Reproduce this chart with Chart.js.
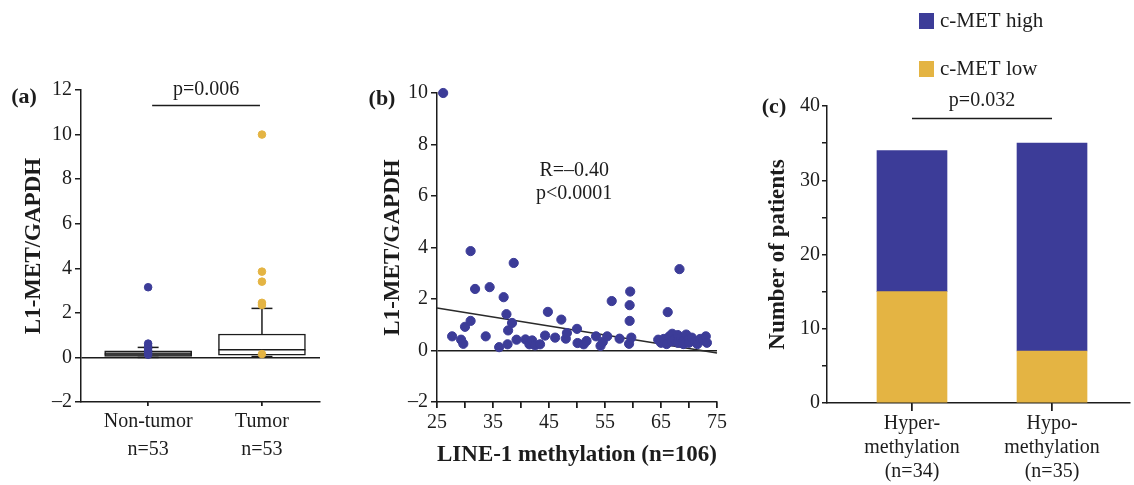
<!DOCTYPE html>
<html><head><meta charset="utf-8">
<script src="https://cdn.jsdelivr.net/npm/chart.js@4/dist/chart.umd.min.js"></script>
<style>
html,body{margin:0;padding:0;background:#fff;width:1134px;height:485px;overflow:hidden;}
.p{position:absolute;top:0;height:485px;}
</style></head><body>
<div class="p" style="left:0;width:330px"><canvas id="ca"></canvas></div>
<div class="p" style="left:340px;width:390px"><canvas id="cb"></canvas></div>
<div class="p" style="left:740px;width:394px"><canvas id="cc"></canvas></div>
<script>
// ---------- Panel (a): box plot ----------
const groupsA = ['Non-tumor', 'Tumor'];
const groupSubA = ['n=53', 'n=53'];
const q1A = [0.05, 0.10];
const medianA = [0.15, 0.35];
const q3A = [0.30, 1.05];
const whiskerLowA = [0.0, 0.04];
const whiskerHighA = [0.45, 2.2];
const outliersNonTumor = [3.15, 0.62, 0.5, 0.4, 0.3, 0.2, 0.12];
const outliersTumor = [10.0, 3.85, 3.4, 2.45, 2.35, 0.15];
const ticksA = [-2, 0, 2, 4, 6, 8, 10, 12];
const sigA = {value: 11.3, text: 'p=0.006'};

// ---------- Panel (b): scatter ----------
const methylationB = [26.1, 27.7, 29.3, 29.7, 30.0, 31.0, 31.0, 31.8, 33.7, 34.4, 36.1, 36.9, 37.4, 37.6, 37.7, 38.4, 38.7, 39.2, 40.8, 41.5, 42.0, 42.5, 43.4, 44.3, 44.8, 46.1, 47.2, 48.0, 48.2, 50.0, 50.1, 51.2, 51.7, 53.4, 54.2, 54.6, 55.4, 56.2, 57.6, 59.3, 59.5, 59.4, 59.4, 59.7, 66.2, 68.3, 64.5, 65.0, 65.5, 66.0, 66.5, 67.0, 67.0, 67.5, 68.0, 68.0, 68.5, 69.0, 69.0, 69.5, 70.0, 70.0, 70.5, 71.0, 71.5, 72.0, 72.5, 73.0, 73.2];
const ratioB = [10.0, 0.55, 0.42, 0.26, 0.92, 1.15, 3.86, 2.39, 0.55, 2.46, 0.13, 2.07, 1.41, 0.24, 0.78, 1.07, 3.4, 0.42, 0.43, 0.24, 0.39, 0.2, 0.24, 0.58, 1.5, 0.5, 1.2, 0.46, 0.68, 0.84, 0.29, 0.24, 0.37, 0.55, 0.18, 0.33, 0.55, 1.92, 0.46, 0.26, 2.29, 1.76, 1.15, 0.5, 1.49, 3.16, 0.42, 0.3, 0.45, 0.25, 0.55, 0.65, 0.35, 0.45, 0.3, 0.6, 0.5, 0.4, 0.25, 0.62, 0.45, 0.3, 0.5, 0.35, 0.25, 0.45, 0.4, 0.55, 0.3];
const fitXB = [25, 75];
const fitYB = [1.65, -0.1];
const statsB = ['R=\u20130.40', 'p<0.0001'];

// ---------- Panel (c): stacked bars ----------
const groupsC = [['Hyper-', 'methylation', '(n=34)'], ['Hypo-', 'methylation', '(n=35)']];
const metLowC = [15, 7];
const metHighC = [19, 28];
const seriesC = ['c-MET low', 'c-MET high'];
const sigC = {value: 38.3, text: 'p=0.032'};

// ---------- styling ----------
const BLUE = '#3c3c98', GOLD = '#e4b443', INK = '#1c1c1c';
const SERIF = "'Liberation Serif','Times New Roman',serif";
Chart.defaults.font.family = SERIF;
Chart.defaults.font.size = 20;
Chart.defaults.color = INK;
Chart.defaults.animation = false;
Chart.defaults.plugins.legend.display = false;
Chart.defaults.plugins.tooltip.enabled = false;

function fixSize(w, h) { return function (s) { if (w != null) s.width = w; if (h != null) s.height = h; }; }
function zeroLine(c) { return c.tick && c.tick.value === 0 ? INK : 'rgba(0,0,0,0)'; }
function dashNum(v) { return v < 0 ? '\u2013' + Math.abs(v) : String(v); }
function setTicks(arr) { return function (s) { s.ticks = arr.map(v => ({value: v})); }; }
function text(ctx, str, x, y, font) {
  ctx.save(); ctx.font = font; ctx.fillStyle = INK; ctx.textAlign = 'center'; ctx.textBaseline = 'middle';
  ctx.fillText(str, x, y); ctx.restore();
}
function hline(ctx, x1, x2, y) {
  ctx.save(); ctx.strokeStyle = INK; ctx.lineWidth = 1.5; ctx.beginPath(); ctx.moveTo(x1, y); ctx.lineTo(x2, y); ctx.stroke(); ctx.restore();
}
// outward tick marks on the x axis, placed at the scale's own tick values
function xTickMarks(len) {
  return {id: 'xTickMarks', afterDraw(ch) {
    const xs = ch.scales.x, ctx = ch.ctx, y0 = ch.chartArea.bottom;
    ctx.save(); ctx.strokeStyle = INK; ctx.lineWidth = 1.5; ctx.beginPath();
    xs.ticks.forEach(t => {
      const px = Math.round(xs.getPixelForValue(t.value) - 0.75) + 0.75;
      ctx.moveTo(px, y0); ctx.lineTo(px, y0 + len);
    });
    ctx.stroke(); ctx.restore();
  }};
}

// ---------- chart (a) ----------
const HALF_BOX = 0.382, HALF_CAP = 0.092;
function seg(x1, y1, x2, y2) {
  return {type: 'scatter', showLine: true, data: [{x: x1, y: y1}, {x: x2, y: y2}], borderColor: INK, borderWidth: 1.5, pointRadius: 0, order: 1};
}
const dsA = [];
dsA.push({type: 'bar', data: groupsA.map((g, i) => ({x: i, y: [q1A[i], q3A[i]]})), backgroundColor: ['#8a8a8a', '#ffffff'], borderColor: INK, borderWidth: 1.5, borderSkipped: false, barThickness: 87, order: 2});
groupsA.forEach((g, i) => {
  dsA.push(seg(i - HALF_BOX, medianA[i], i + HALF_BOX, medianA[i]));
  dsA.push(seg(i, q3A[i], i, whiskerHighA[i]));
  dsA.push(seg(i - HALF_CAP, whiskerHighA[i], i + HALF_CAP, whiskerHighA[i]));
  dsA.push(seg(i, q1A[i], i, whiskerLowA[i]));
  dsA.push(seg(i - HALF_CAP, whiskerLowA[i], i + HALF_CAP, whiskerLowA[i]));
});
dsA.push({type: 'scatter', data: outliersNonTumor.map(v => ({x: 0, y: v})), backgroundColor: BLUE, borderColor: BLUE, pointRadius: 3.8, order: 0});
dsA.push({type: 'scatter', data: outliersTumor.map(v => ({x: 1, y: v})), backgroundColor: GOLD, borderColor: GOLD, pointRadius: 3.8, order: 0, clip: false});

new Chart(document.getElementById('ca'), {
  type: 'bar',
  data: {datasets: dsA},
  options: {
    responsive: true, maintainAspectRatio: false,
    layout: {padding: {top: 90, right: 10, bottom: 0, left: 0}},
    scales: {
      x: {type: 'linear', min: -0.59, max: 1.51, offset: false, afterBuildTicks: setTicks([0, 1]),
          ticks: {autoSkip: false, callback: v => [groupsA[v], groupSubA[v]], padding: 2, font: {size: 20, lineHeight: 1.4}},
          grid: {drawOnChartArea: false, offset: false, tickLength: 4, color: INK, tickColor: INK, lineWidth: 1.5},
          border: {color: INK, width: 1.5}, afterFit: fixSize(null, 83)},
      y: {min: -2, max: 12, afterBuildTicks: setTicks(ticksA),
          ticks: {callback: v => dashNum(v), padding: 3},
          grid: {color: zeroLine, tickColor: INK, tickLength: 6, lineWidth: 1.5},
          border: {color: INK, width: 1.5},
          title: {display: true, text: 'L1-MET/GAPDH', font: {size: 23, weight: 'bold'}, padding: {top: 20, bottom: 0}},
          afterFit: fixSize(81, null)}
    }
  },
  plugins: [xTickMarks(4), {id: 'annA', afterDraw(ch) {
    const ctx = ch.ctx, xs = ch.scales.x, ys = ch.scales.y;
    text(ctx, '(a)', 24, 97, 'bold 22px ' + SERIF);
    const y = ys.getPixelForValue(sigA.value);
    const x1 = xs.getPixelForValue(0) + 4, x2 = xs.getPixelForValue(1) - 2;
    hline(ctx, x1, x2, y);
    text(ctx, sigA.text, (x1 + x2) / 2, y - 16, '20px ' + SERIF);
  }}]
});

// ---------- chart (b) ----------
new Chart(document.getElementById('cb'), {
  type: 'scatter',
  data: {datasets: [
    {type: 'line', data: fitXB.map((x, i) => ({x: x, y: fitYB[i]})), borderColor: '#2a2a2a', borderWidth: 1.5, pointRadius: 0, order: 1, clip: false},
    {data: methylationB.map((x, i) => ({x: x, y: ratioB[i]})), backgroundColor: BLUE, borderColor: BLUE, pointRadius: 4.6, order: 0, clip: false}
  ]},
  options: {
    responsive: true, maintainAspectRatio: false,
    layout: {padding: {top: 93, right: 8, bottom: 0, left: 0}},
    scales: {
      x: {type: 'linear', min: 25, max: 75,
          ticks: {stepSize: 5, autoSkip: false, maxRotation: 0, callback: v => ((v - 25) % 10 === 0 ? String(v) : ''), padding: 3},
          grid: {drawOnChartArea: false, tickLength: 6, color: INK, tickColor: INK, lineWidth: 1.5},
          border: {color: INK, width: 1.5},
          title: {display: true, text: 'LINE-1 methylation (n=106)', font: {size: 23, weight: 'bold'}, padding: {top: 0, bottom: 16}},
          afterFit: fixSize(null, 83)},
      y: {type: 'linear', min: -2, max: 10, ticks: {stepSize: 2, callback: v => dashNum(v), padding: 3},
          grid: {color: zeroLine, tickColor: INK, tickLength: 6, lineWidth: 1.5},
          border: {color: INK, width: 1.5},
          title: {display: true, text: 'L1-MET/GAPDH', font: {size: 23, weight: 'bold'}, padding: {top: 39, bottom: 0}},
          afterFit: fixSize(97, null)}
    }
  },
  plugins: [xTickMarks(6), {id: 'annB', afterDraw(ch) {
    const ctx = ch.ctx, xs = ch.scales.x, ys = ch.scales.y;
    text(ctx, '(b)', 42, 99, 'bold 22px ' + SERIF);
    text(ctx, statsB[0], xs.getPixelForValue(49.5), ys.getPixelForValue(7.0), '20px ' + SERIF);
    text(ctx, statsB[1], xs.getPixelForValue(49.5), ys.getPixelForValue(6.1), '20px ' + SERIF);
  }}]
});

// ---------- chart (c) ----------
new Chart(document.getElementById('cc'), {
  type: 'bar',
  data: {datasets: [
    {label: seriesC[0], data: metLowC.map((v, i) => ({x: i, y: v})), backgroundColor: GOLD, barThickness: 70},
    {label: seriesC[1], data: metHighC.map((v, i) => ({x: i, y: v})), backgroundColor: BLUE, barThickness: 70}
  ]},
  options: {
    responsive: true, maintainAspectRatio: false,
    layout: {padding: {top: 106, right: 4, bottom: 0, left: 0}},
    scales: {
      x: {type: 'linear', min: -0.607, max: 1.557, offset: false, stacked: true, afterBuildTicks: setTicks([0, 1]),
          ticks: {autoSkip: false, callback: v => groupsC[v], padding: 1, font: {size: 20, lineHeight: 1.2}},
          grid: {drawOnChartArea: false, offset: false, tickLength: 8, color: INK, tickColor: INK, lineWidth: 1.5},
          border: {color: INK, width: 1.5}, afterFit: fixSize(null, 82)},
      y: {min: 0, max: 40, stacked: true, ticks: {stepSize: 5, callback: v => (v % 10 === 0 ? String(v) : ''), padding: 2},
          grid: {drawOnChartArea: false, tickLength: 5, color: INK, tickColor: INK, lineWidth: 1.5},
          border: {color: INK, width: 1.5},
          title: {display: true, text: 'Number of patients', font: {size: 23, weight: 'bold'}, padding: {top: 24, bottom: 0}},
          afterFit: fixSize(87, null)}
    }
  },
  plugins: [xTickMarks(8), {id: 'annC', afterDraw(ch) {
    const ctx = ch.ctx, xs = ch.scales.x, ys = ch.scales.y;
    text(ctx, '(c)', 34, 107, 'bold 22px ' + SERIF);
    const y = ys.getPixelForValue(sigC.value);
    const x1 = xs.getPixelForValue(0), x2 = xs.getPixelForValue(1);
    hline(ctx, x1, x2, y);
    text(ctx, sigC.text, (x1 + x2) / 2, y - 18, '20px ' + SERIF);
    // legend (high first, then low)
    const items = ch.data.datasets.slice().reverse();
    items.forEach((d, i) => {
      const yy = 21 + i * 48;
      ctx.save();
      ctx.fillStyle = d.backgroundColor; ctx.fillRect(179, yy - 8, 15, 16);
      ctx.fillStyle = INK; ctx.font = '21px ' + SERIF; ctx.textAlign = 'left'; ctx.textBaseline = 'middle';
      ctx.fillText(d.label, 200, yy);
      ctx.restore();
    });
  }}]
});
</script>
</body></html>
